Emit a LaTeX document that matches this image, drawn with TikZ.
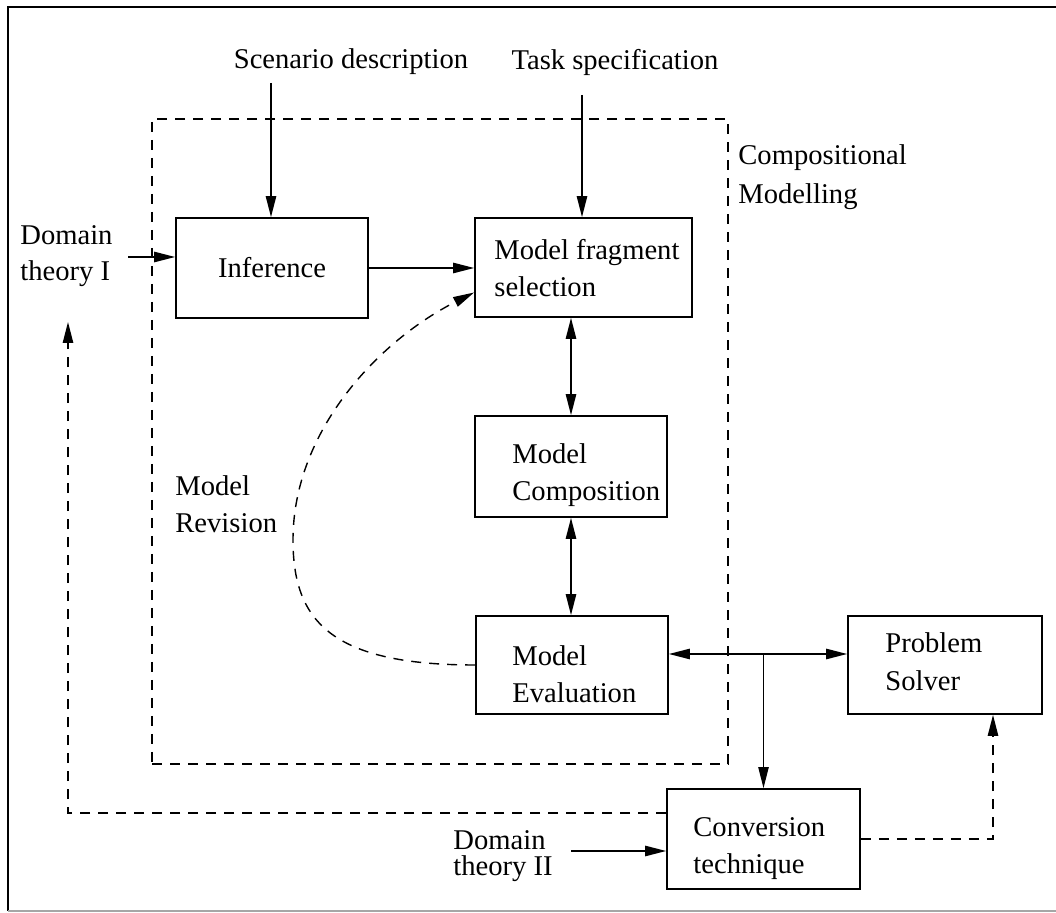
\documentclass[tikz,border=0pt]{standalone}
\usepackage{fontspec}
\setmainfont{Liberation Serif}
\usetikzlibrary{arrows.meta,calc}
\begin{document}
\begin{tikzpicture}[x=0.5pt,y=-0.5pt,
  font=\fontsize{14.3}{18.5}\selectfont,
  box/.style={draw,line width=0.9pt,inner sep=0pt},
  tip/.style={-{Triangle[length=10.5pt,width=5.2pt]}},
  conn/.style={line width=0.7pt,tip},
  dconn/.style={line width=0.7pt,{Triangle[length=10.5pt,width=5.2pt]}-{Triangle[length=10.5pt,width=5.2pt]}},
  dsh/.style={line width=0.7pt,dash pattern=on 5pt off 4pt},
  lbl/.style={inner sep=0pt,align=left,anchor=west}]

\useasboundingbox (0,0) rectangle (1056,913);
\draw[line width=0.7pt] (1056,7) -- (8,7) -- (8,911);
\draw[line width=0.7pt,black!35] (8,911) -- (1056,911);

% dashed "Compositional Modelling" region
\node[draw,dsh,minimum width=288pt,minimum height=322.5pt,inner sep=0pt] (cmbox) at (440,441.5) {};
\node[lbl,font=\fontsize{14.3}{19.5}\selectfont] (cmt) at (738,177) {Compositional\\Modelling};

% boxes
\node[box,minimum width=96pt,minimum height=50pt] (inf) at (272,268) {Inference};
\node[box,minimum width=108.5pt,minimum height=49.5pt] (mfs) at (583.5,267.5) {};
\node[lbl] (mfst) at (494,268) {Model fragment\\selection};
\node[box,minimum width=96pt,minimum height=50.5pt] (comp) at (571,466.5) {};
\node[lbl] (compt) at (512,475) {Model\\Composition};
\node[box,minimum width=96pt,minimum height=49pt] (eval) at (572,665) {};
\node[lbl] (evalt) at (512,674) {Model\\Evaluation};
\node[box,minimum width=97pt,minimum height=49pt] (ps) at (945,665) {};
\node[lbl,font=\fontsize{14.3}{19}\selectfont] (pst) at (885,662) {Problem\\Solver};
\node[box,minimum width=96.5pt,minimum height=50pt] (conv) at (763.5,839) {};
\node[lbl] (convt) at (693,849) {Conversion\\technique};

% outside labels
\node[inner sep=0pt] (scen) at (351,62) {Scenario description};
\node[inner sep=0pt] (task) at (615,62) {Task specification};
\node[lbl,font=\fontsize{14.3}{18}\selectfont] (dt1) at (20,256) {Domain\\theory I};
\node[lbl,font=\fontsize{14.3}{13}\selectfont] (dt2) at (453,856) {Domain\\theory II};
\node[lbl] (mrt) at (175,504) {Model\\Revision};

% connectors
\coordinate (sa) at (271,83);
\draw[conn] (sa) -- (sa |- inf.north);
\coordinate (ta) at (582,95);
\draw[conn] (ta) -- (ta |- mfs.north);
\coordinate (da) at (128,257);
\draw[conn] (da) -- (da -| inf.west);
\draw[conn] (inf.east) -- (inf.east -| mfs.west);
\draw[dconn] (comp.north |- mfs.south) -- (comp.north);
\draw[dconn] (comp.south) -- (comp.south |- eval.north);
\coordinate (ea) at ($(eval.east)+(0,-11)$);
\draw[dconn] (ea) -- (ea -| ps.west);
\draw[conn,line width=0.55pt] (ea -| conv.north) -- (conv.north);
\coordinate (d2a) at (571,851);
\draw[conn] (d2a) -- (d2a -| conv.west);

% dashed connectors
\draw[dsh,tip] (eval.west) .. controls (330,665) and (293,620) .. (293,540)
  .. controls (293,430) and (380,340) .. ($(mfs.west)+(0,25)$);
\coordinate (fb) at (68,322);
\draw[dsh,tip] ($(conv.west)+(0,-26)$) -| (fb);
\coordinate (pa) at ($(ps.south)+(48,0)$);
\draw[dsh,tip] (conv.east) -| (pa);
\end{tikzpicture}
\end{document}
